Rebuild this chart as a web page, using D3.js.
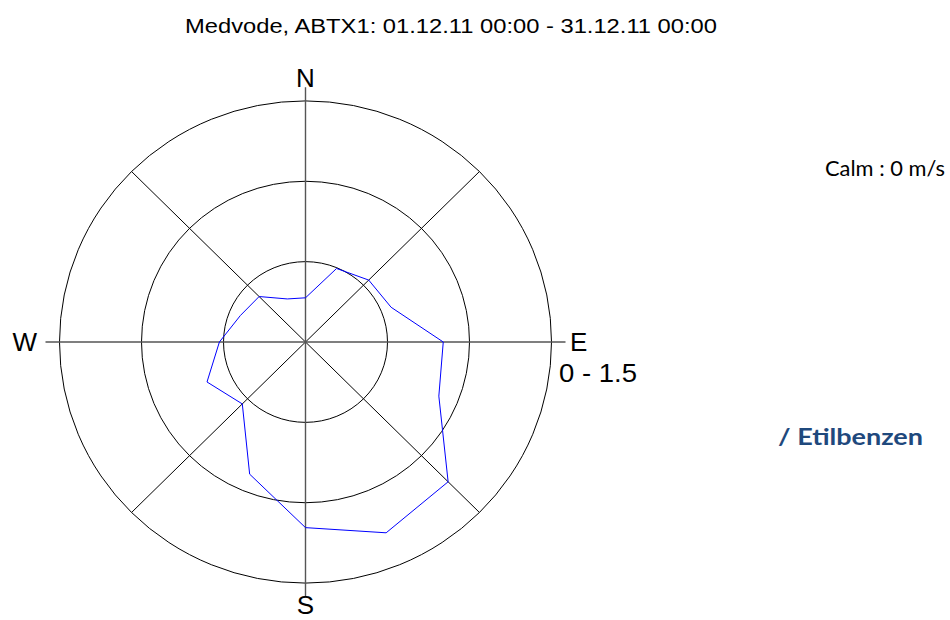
<!DOCTYPE html>
<html>
<head>
<meta charset="utf-8">
<script src="https://cdn.jsdelivr.net/npm/d3@7"></script>
<style>
  body { margin: 0; background: #fff; }
  svg { display: block; }
</style>
</head>
<body>
<svg></svg>
<script>
// data
const directions = ["N", "NNE", "NE", "ENE", "E", "ESE", "SE", "SSE",
  "S", "SSW", "SW", "WSW", "W", "WNW", "NW", "NNW"];
// concentration per direction, in ring units
const values = [0.55, 0.99, 1.09, 1.13, 1.68, 1.76, 2.46, 2.57,
  2.31, 1.78, 1.09, 1.30, 1.05, 0.86, 0.80, 0.58];
const rings = [1, 2, 3];
const compass = ["N", "E", "S", "W"];
const spokes = [45, 135];
const titleText = "Medvode, ABTX1: 01.12.11 00:00 - 31.12.11 00:00";
const classLabel = "0 - 1.5";
const calmText = "Calm : 0 m/s";
const substance = "/ Etilbenzen";

const w = 950;
const h = 620;
const cx = 305.5;
const cy = 342;
const squash = 0.98; // the picture is a touch flatter vertically
const outerR = 246;
const axisR = 260;

const svg = d3.select("svg").attr("width", w).attr("height", h);

const rScale = d3.scaleLinear().domain([0, d3.max(rings)]).range([0, outerR]);
const angle = d3.scalePoint()
  .domain(directions)
  .range([0, 2 * Math.PI * (directions.length - 1) / directions.length]);

const plot = svg.append("g")
  .attr("transform", `translate(${cx}, ${cy}) scale(1, ${squash})`);

// rings
plot.selectAll(".ring")
  .data(rings)
  .enter()
  .append("circle")
  .attr("class", "ring")
  .attr("r", d => rScale(d))
  .attr("fill", "none")
  .attr("stroke", "#000")
  .attr("stroke-width", 1)
  .attr("vector-effect", "non-scaling-stroke");

// diagonal spokes end at the outer ring, main axes run a bit further
const rad = d => d * Math.PI / 180;
plot.selectAll(".spoke")
  .data(spokes)
  .enter()
  .append("line")
  .attr("x1", d => -outerR * Math.sin(rad(d)))
  .attr("y1", d => outerR * Math.cos(rad(d)))
  .attr("x2", d => outerR * Math.sin(rad(d)))
  .attr("y2", d => -outerR * Math.cos(rad(d)))
  .attr("stroke", "#000")
  .attr("stroke-width", 1)
  .attr("vector-effect", "non-scaling-stroke");

plot.selectAll(".axis")
  .data([0, 90])
  .enter()
  .append("line")
  .attr("x1", d => -axisR * Math.sin(rad(d)))
  .attr("y1", d => axisR * Math.cos(rad(d)))
  .attr("x2", d => axisR * Math.sin(rad(d)))
  .attr("y2", d => -axisR * Math.cos(rad(d)))
  .attr("stroke", "#555")
  .attr("stroke-width", 1.4)
  .attr("vector-effect", "non-scaling-stroke");

// concentration rose
const rose = d3.lineRadial()
  .angle((d, i) => angle(directions[i]))
  .radius(d => rScale(d))
  .curve(d3.curveLinearClosed);

plot.append("path")
  .datum(values)
  .attr("d", rose)
  .attr("fill", "none")
  .attr("stroke", "#0000ff")
  .attr("stroke-width", 1)
  .attr("vector-effect", "non-scaling-stroke");

// compass letters
const labelFont = "'Liberation Sans', Arial, sans-serif";
const letterPos = {
  N: { x: cx, y: 87, anchor: "middle" },
  E: { x: 570, y: 351, anchor: "start" },
  S: { x: cx, y: 614, anchor: "middle" },
  W: { x: 37, y: 351, anchor: "end" }
};
svg.selectAll(".compass")
  .data(compass)
  .enter()
  .append("text")
  .attr("x", d => letterPos[d].x)
  .attr("y", d => letterPos[d].y)
  .attr("text-anchor", d => letterPos[d].anchor)
  .style("font-family", labelFont)
  .style("font-size", "26px")
  .text(d => d);

svg.append("text")
  .attr("x", 559)
  .attr("y", 382)
  .attr("textLength", 78)
  .attr("lengthAdjust", "spacingAndGlyphs")
  .style("font-family", labelFont)
  .style("font-size", "26px")
  .text(classLabel);

// title
svg.append("text")
  .attr("x", 185)
  .attr("y", 33)
  .attr("textLength", 532)
  .attr("lengthAdjust", "spacingAndGlyphs")
  .style("font-family", labelFont)
  .style("font-size", "20px")
  .text(titleText);

svg.append("text")
  .attr("x", 825)
  .attr("y", 176)
  .attr("textLength", 120)
  .attr("lengthAdjust", "spacingAndGlyphs")
  .style("font-family", "Lato, 'Open Sans', sans-serif")
  .style("font-size", "21px")
  .text(calmText);

svg.append("text")
  .attr("x", 778)
  .attr("y", 445)
  .attr("textLength", 145)
  .attr("lengthAdjust", "spacingAndGlyphs")
  .style("font-family", "Lato, 'Open Sans', sans-serif")
  .style("font-size", "23px")
  .style("font-weight", "bold")
  .attr("fill", "#1f497d")
  .text(substance);
</script>
</body>
</html>
